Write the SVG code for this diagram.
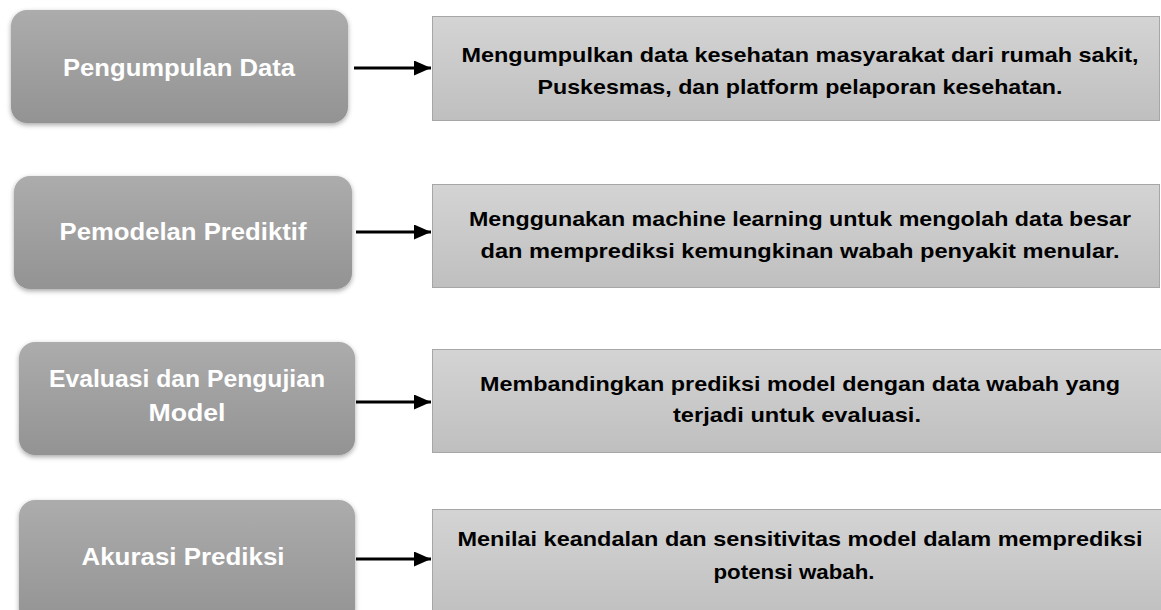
<svg xmlns="http://www.w3.org/2000/svg" width="1161" height="610" viewBox="0 0 1161 610">
<style>
.lbl{font-family:"Liberation Sans",Arial,sans-serif;font-weight:bold;font-size:23px;fill:#ffffff;text-anchor:middle}
.desc{font-family:"Liberation Sans",Arial,sans-serif;font-weight:bold;font-size:21px;fill:#000000;text-anchor:middle}
.step{fill:url(#gStep);filter:url(#sh)}
.info{fill:url(#gInfo);stroke:#a6a6a6;stroke-width:1}
</style>
<defs>
<linearGradient id="gStep" x1="0" y1="0" x2="0" y2="1">
<stop offset="0" stop-color="#acacac"/>
<stop offset="1" stop-color="#939393"/>
</linearGradient>
<linearGradient id="gInfo" x1="0" y1="0" x2="0" y2="1">
<stop offset="0" stop-color="#d4d4d4"/>
<stop offset="1" stop-color="#bfbfbf"/>
</linearGradient>
<filter id="sh" x="-10%" y="-20%" width="120%" height="140%">
<feDropShadow dx="0" dy="2" stdDeviation="2.5" flood-color="#000" flood-opacity="0.35"/>
</filter>
<marker id="arrB" viewBox="0 0 17 15" refX="17" refY="7.5" markerWidth="17" markerHeight="15" markerUnits="userSpaceOnUse" orient="auto">
<path d="M0,0 L17,7.5 L0,15 z" fill="#000"/>
</marker>
</defs>

<g id="step1">
<rect class="step" x="11" y="10" width="337" height="113" rx="16"/>
<text class="lbl" x="179" y="76" textLength="232" lengthAdjust="spacingAndGlyphs">Pengumpulan Data</text>
</g>
<g id="info1">
<rect class="info" x="432.5" y="16.5" width="727" height="104"/>
<text class="desc" x="800" y="62" textLength="677" lengthAdjust="spacingAndGlyphs">Mengumpulkan data kesehatan masyarakat dari rumah sakit,</text>
<text class="desc" x="800" y="94" textLength="525" lengthAdjust="spacingAndGlyphs">Puskesmas, dan platform pelaporan kesehatan.</text>
</g>

<g id="step2">
<rect class="step" x="14" y="176" width="338" height="113" rx="16"/>
<text class="lbl" x="183" y="240" textLength="247" lengthAdjust="spacingAndGlyphs">Pemodelan Prediktif</text>
</g>
<g id="info2">
<rect class="info" x="432.5" y="184.5" width="727" height="103"/>
<text class="desc" x="800" y="226" textLength="662" lengthAdjust="spacingAndGlyphs">Menggunakan machine learning untuk mengolah data besar</text>
<text class="desc" x="800" y="258" textLength="639" lengthAdjust="spacingAndGlyphs">dan memprediksi kemungkinan wabah penyakit menular.</text>
</g>

<g id="step3">
<rect class="step" x="19" y="342" width="336" height="113" rx="16"/>
<text class="lbl" x="187" y="387" textLength="276" lengthAdjust="spacingAndGlyphs">Evaluasi dan Pengujian</text>
<text class="lbl" x="187" y="421" textLength="77" lengthAdjust="spacingAndGlyphs">Model</text>
</g>
<g id="info3">
<rect class="info" x="432.5" y="349.5" width="730" height="103"/>
<text class="desc" x="800" y="391" textLength="640" lengthAdjust="spacingAndGlyphs">Membandingkan prediksi model dengan data wabah yang</text>
<text class="desc" x="797" y="422" textLength="248" lengthAdjust="spacingAndGlyphs">terjadi untuk evaluasi.</text>
</g>

<g id="step4">
<rect class="step" x="19" y="500" width="336" height="125" rx="16"/>
<text class="lbl" x="183" y="565" textLength="203" lengthAdjust="spacingAndGlyphs">Akurasi Prediksi</text>
</g>
<g id="info4">
<rect class="info" x="432.5" y="509.5" width="730" height="110"/>
<text class="desc" x="800" y="546" textLength="685" lengthAdjust="spacingAndGlyphs">Menilai keandalan dan sensitivitas model dalam memprediksi</text>
<text class="desc" x="794" y="579" textLength="161" lengthAdjust="spacingAndGlyphs">potensi wabah.</text>
</g>

<g id="connectors" stroke="#000" stroke-width="3" fill="none">
<line x1="354" y1="68" x2="431" y2="68" marker-end="url(#arrB)"/>
<line x1="356" y1="232" x2="431" y2="232" marker-end="url(#arrB)"/>
<line x1="356" y1="402" x2="431" y2="402" marker-end="url(#arrB)"/>
<line x1="356" y1="559" x2="431" y2="559" marker-end="url(#arrB)"/>
</g>
</svg>
